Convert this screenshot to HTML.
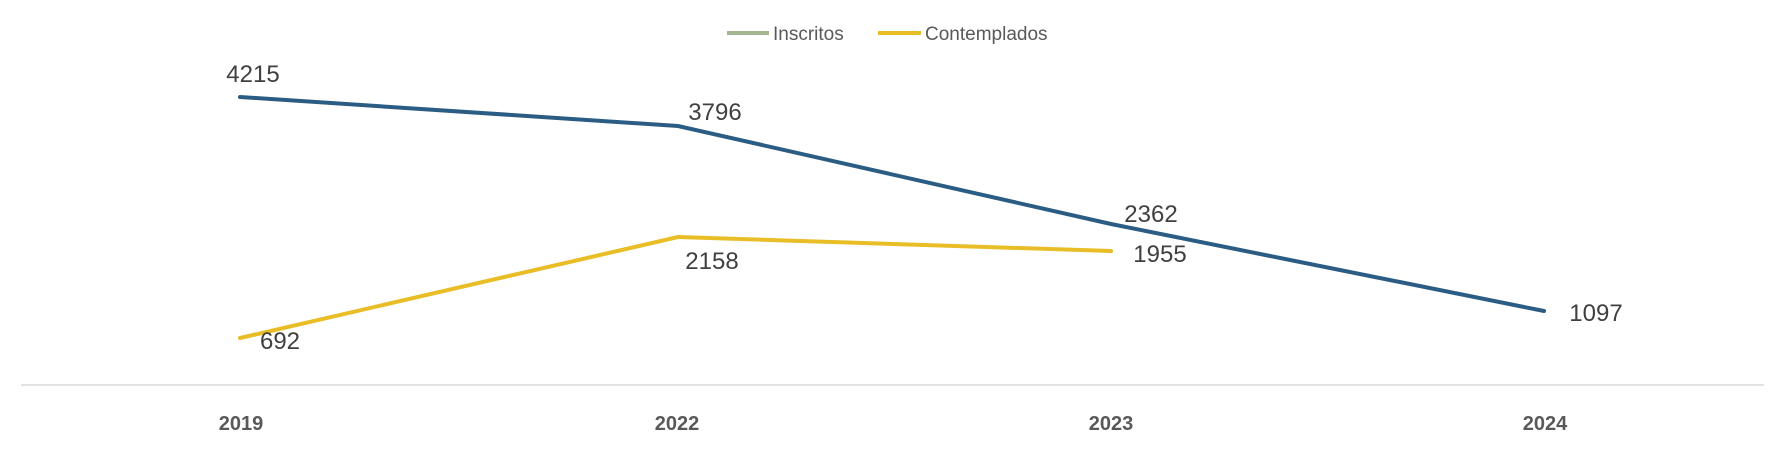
<!DOCTYPE html>
<html><head><meta charset="utf-8"><style>
html,body{margin:0;padding:0;background:#fff;}
svg{display:block;}
text{font-family:"Liberation Sans","DejaVu Sans",sans-serif;}
</style></head><body>
<svg width="1778" height="450" viewBox="0 0 1778 450" xmlns="http://www.w3.org/2000/svg">
<line x1="727" y1="33" x2="769" y2="33" stroke="#a5b592" stroke-width="4"/>
<text x="773" y="40" font-size="19" fill="#595959">Inscritos</text>
<line x1="878" y1="33" x2="921" y2="33" stroke="#e8bd26" stroke-width="4"/>
<text x="925" y="40" font-size="19" fill="#595959">Contemplados</text>
<line x1="21" y1="385" x2="1764" y2="385" stroke="#d9d9d9" stroke-width="1.5"/>
<polyline points="240,97 678,126 1111,224 1544,311" fill="none" stroke="#2b5c84" stroke-width="4" stroke-linejoin="round" stroke-linecap="round"/>
<polyline points="240,338 678,237 1111,251" fill="none" stroke="#e8bd26" stroke-width="4" stroke-linejoin="round" stroke-linecap="round"/>
<g font-size="24" fill="#404040" text-anchor="middle">
<text x="253" y="82">4215</text>
<text x="715" y="120">3796</text>
<text x="1151" y="222">2362</text>
<text x="1596" y="321">1097</text>
<text x="280" y="349">692</text>
<text x="712" y="269">2158</text>
<text x="1160" y="262">1955</text>
</g>
<g font-size="20" font-weight="bold" fill="#595959" text-anchor="middle">
<text x="241" y="430">2019</text>
<text x="677" y="430">2022</text>
<text x="1111" y="430">2023</text>
<text x="1545" y="430">2024</text>
</g>
</svg>
</body></html>
